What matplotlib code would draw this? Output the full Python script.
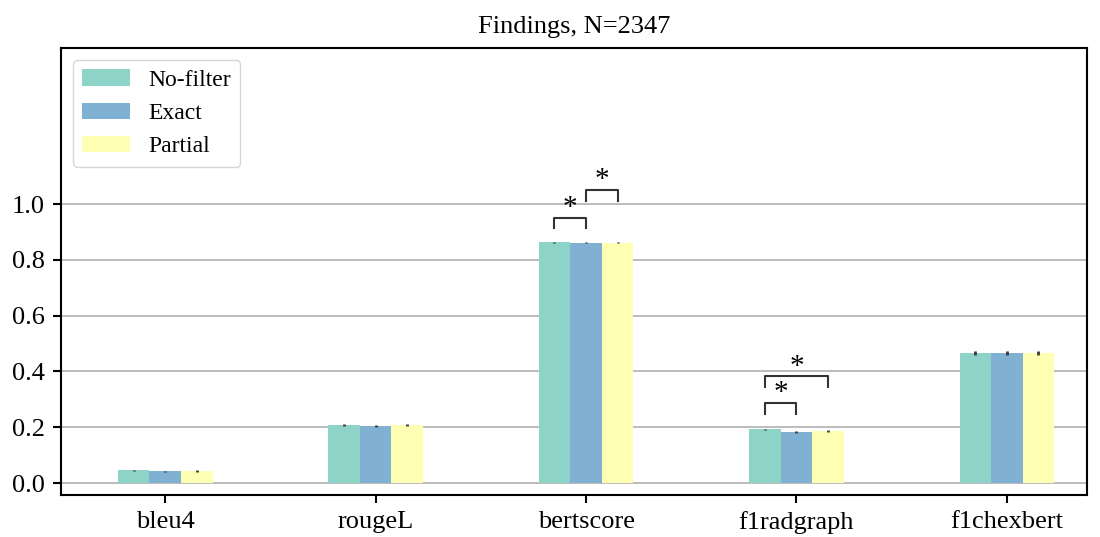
import numpy as np
import matplotlib.pyplot as plt

plt.rcParams['font.family'] = ['Liberation Serif', 'DejaVu Serif']

metrics = ['bleu4', 'rougeL', 'bertscore', 'f1radgraph', 'f1chexbert']
groups = ['No-filter', 'Exact', 'Partial']
colors = ['#8dd3c7', '#80b1d3', '#ffffb3']

no_filter = [0.045, 0.207, 0.864, 0.192, 0.466]
exact = [0.042, 0.204, 0.861, 0.182, 0.466]
partial = [0.043, 0.207, 0.862, 0.186, 0.467]

err_no_filter = [0.002, 0.003, 0.002, 0.003, 0.008]
err_exact = [0.002, 0.003, 0.002, 0.003, 0.008]
err_partial = [0.002, 0.003, 0.002, 0.003, 0.008]

# significance pairs: (metric index, group a, group b, bracket bottom, bracket top)
sig_pairs = [
    (2, 0, 1, 0.915, 0.952),
    (2, 1, 2, 1.011, 1.051),
    (3, 0, 1, 0.246, 0.287),
    (3, 0, 2, 0.344, 0.383),
]

fig = plt.figure(figsize=(11, 5.37), dpi=100)
ax = fig.add_axes([0.0555, 0.0782, 0.9325, 0.8324])

x = np.arange(len(metrics))
width = 0.15
values = [no_filter, exact, partial]
errors = [err_no_filter, err_exact, err_partial]

ax.set_axisbelow(True)
ax.yaxis.grid(True, color='#b0b0b0', linewidth=1.2)

for i in range(3):
    ax.bar(x + (i - 1) * width, values[i], width, color=colors[i], label=groups[i],
           yerr=errors[i], error_kw=dict(ecolor='#3c3c3c', elinewidth=2.0, capsize=0))

for m, a, b, y0, y1 in sig_pairs:
    xa = x[m] + (a - 1) * width
    xb = x[m] + (b - 1) * width
    ax.plot([xa, xa, xb, xb], [y0, y1, y1, y0], color='#333333', linewidth=1.5)
    ax.text((xa + xb) / 2, y1 - 0.012, '*', ha='center', va='bottom', fontsize=21)

ax.set_xticks(x)
ax.set_xticklabels(metrics, fontsize=19)
ax.set_yticks([0.0, 0.2, 0.4, 0.6, 0.8, 1.0])
ax.set_yticklabels(['0.0', '0.2', '0.4', '0.6', '0.8', '1.0'], fontsize=19)
ax.set_xlim(-0.495, 4.38)
ax.set_ylim(-0.043, 1.56)
for s in ax.spines.values():
    s.set_linewidth(1.5)
ax.tick_params(width=1.5, length=5.5, pad=6)

ax.set_title('Findings, N=2347', fontsize=19, pad=11)
ax.legend(loc='upper left', fontsize=17, handlelength=2.0,
          frameon=True, edgecolor='#cccccc')

fig.savefig('out.png', dpi=100)
